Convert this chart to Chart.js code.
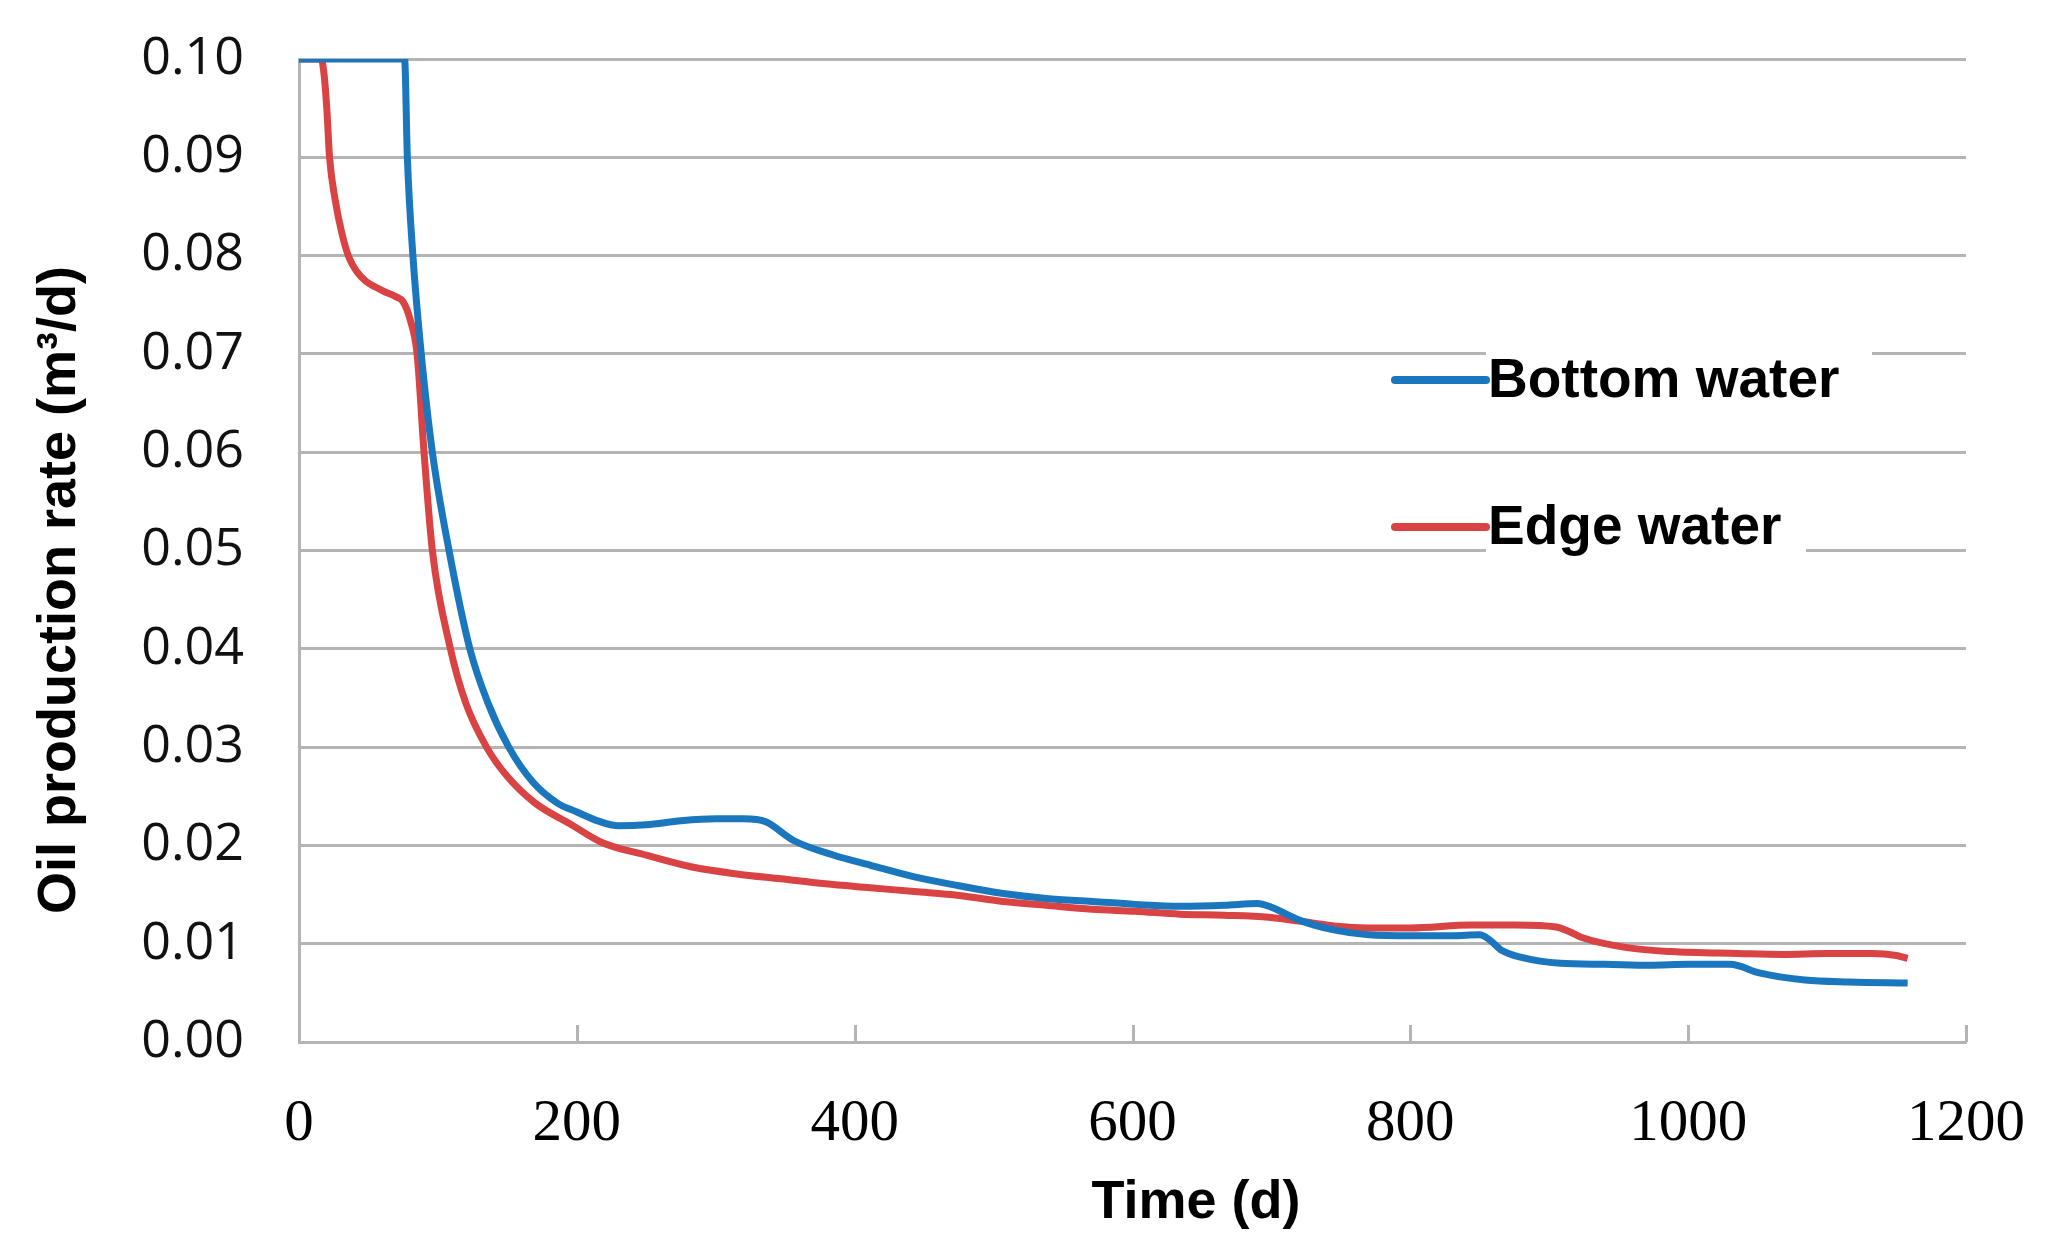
<!DOCTYPE html>
<html>
<head>
<meta charset="utf-8">
<title>Oil production rate</title>
<script src="https://cdn.jsdelivr.net/npm/chart.js@4.4.0/dist/chart.umd.min.js"></script>
<style>
html, body { margin: 0; padding: 0; background: #fff; }
canvas { display: block; }
</style>
</head>
<body>
<canvas id="ratechart" width="2056" height="1257"></canvas>
<script>
// values
var bottomDays = [0, 76, 78, 82, 88, 96, 108, 123, 136, 151, 168, 186, 200, 215, 230, 250, 275, 300, 320, 336, 356, 385, 411, 443, 475, 507, 538, 571, 602, 634, 666, 690, 700, 720, 745, 770, 800, 830, 850, 857, 866, 880, 908, 940, 972, 1000, 1030, 1052, 1084, 1116, 1158];
var bottomRate = [0.1, 0.1, 0.09, 0.08, 0.07, 0.06, 0.05, 0.04, 0.0345, 0.03, 0.0265, 0.0243, 0.0234, 0.0225, 0.0220, 0.0221, 0.0225, 0.0227, 0.0227, 0.0224, 0.0205, 0.0190, 0.0180, 0.0168, 0.0159, 0.0151, 0.0146, 0.0143, 0.0140, 0.0138, 0.0139, 0.0141, 0.0137, 0.0124, 0.0114, 0.0109, 0.0108, 0.0108, 0.0109, 0.0104, 0.0093, 0.0086, 0.0080, 0.0079, 0.0078, 0.0079, 0.0079, 0.0070, 0.0063, 0.0061, 0.0060];

var edgeDays = [0, 16, 18, 20, 22, 26, 31, 36, 42, 48, 55, 62, 70, 75, 80, 85, 90, 96, 109, 120, 135, 150, 170, 195, 218, 250, 283, 315, 347, 379, 411, 443, 475, 507, 538, 571, 602, 634, 666, 698, 720, 745, 770, 800, 844, 876, 905, 915, 924, 956, 988, 1036, 1068, 1100, 1132, 1150, 1158];
var edgeRate = [0.1, 0.1, 0.0985, 0.095, 0.09, 0.0857, 0.0822, 0.0798, 0.0783, 0.0774, 0.0768, 0.0763, 0.0758, 0.0753, 0.0735, 0.07, 0.06, 0.05, 0.04, 0.0345, 0.03, 0.027, 0.0243, 0.0222, 0.0203, 0.0190, 0.0178, 0.0171, 0.0166, 0.0161, 0.0157, 0.0153, 0.0149, 0.0143, 0.0139, 0.0135, 0.0133, 0.0130, 0.0129, 0.0127, 0.0123, 0.0118, 0.0116, 0.0116, 0.0119, 0.0119, 0.0117, 0.0112, 0.0106, 0.0096, 0.0092, 0.0090, 0.0089, 0.0090, 0.0090, 0.0088, 0.0085];

var xTicks = [0, 200, 400, 600, 800, 1000, 1200];
var yTicks = [0, 0.01, 0.02, 0.03, 0.04, 0.05, 0.06, 0.07, 0.08, 0.09, 0.10];
var seriesNames = ['Bottom water', 'Edge water'];
var seriesColors = ['#1b77bd', '#d94343'];
var xTitle = 'Time (d)';
var yTitle = 'Oil production rate (m\u00b3/d)';

var gridColor = '#b4b4b4';

function toPoints(days, rate) {
    return days.map(function (d, i) { return { x: d, y: rate[i] }; });
}

// titles, inward x ticks and the boxed legend
var decorations = {
    id: 'decorations',
    afterDatasetsDraw: function (chart) {
        var ctx = chart.ctx;
        var area = chart.chartArea;
        var xs = chart.scales.x;
        ctx.save();

        // small ticks pointing up from the time axis
        ctx.strokeStyle = gridColor;
        ctx.lineWidth = 3;
        xTicks.forEach(function (t) {
            var px = Math.round(xs.getPixelForValue(t)) + 0.5;
            ctx.beginPath();
            ctx.moveTo(px, area.bottom);
            ctx.lineTo(px, area.bottom - 17);
            ctx.stroke();
        });

        // legend
        var legendY = [380, 527];
        var boxRight = [1872, 1806];
        ctx.font = 'bold 55px "Liberation Sans", Arial, sans-serif';
        ctx.textBaseline = 'middle';
        ctx.textAlign = 'left';
        seriesNames.forEach(function (name, i) {
            ctx.fillStyle = '#fff';
            ctx.fillRect(1486, legendY[i] - 40, boxRight[i] - 1486, 80);
            ctx.strokeStyle = seriesColors[i];
            ctx.lineWidth = 8;
            ctx.lineCap = 'round';
            ctx.beginPath();
            ctx.moveTo(1395, legendY[i]);
            ctx.lineTo(1486, legendY[i]);
            ctx.stroke();
            ctx.fillStyle = '#000';
            ctx.fillText(name, 1488, legendY[i] + 2);
        });

        // axis titles
        ctx.fillStyle = '#000';
        ctx.textAlign = 'center';
        ctx.textBaseline = 'middle';
        ctx.font = 'bold 54px "Liberation Sans", Arial, sans-serif';
        ctx.fillText(xTitle, 1196, 1203);
        ctx.translate(60, 590);
        ctx.rotate(-Math.PI / 2);
        ctx.fillText(yTitle, 0, 0);
        ctx.restore();
    }
};

var chart1 = document.getElementById('ratechart');
var myChart1 = new Chart(chart1, {
    type: 'line',
    data: {
        datasets: [{
            label: seriesNames[0],
            data: toPoints(bottomDays, bottomRate),
            borderColor: seriesColors[0],
            borderWidth: 7,
            pointRadius: 0,
            cubicInterpolationMode: 'monotone',
            fill: false
        }, {
            label: seriesNames[1],
            data: toPoints(edgeDays, edgeRate),
            borderColor: seriesColors[1],
            borderWidth: 7,
            pointRadius: 0,
            cubicInterpolationMode: 'monotone',
            fill: false
        }]
    },
    options: {
        responsive: false,
        devicePixelRatio: 1,
        animation: false,
        layout: {
            padding: { top: 59, right: 90, left: 0, bottom: 0 }
        },
        plugins: {
            legend: { display: false },
            tooltip: { enabled: false }
        },
        scales: {
            x: {
                type: 'linear',
                min: 0,
                max: 1200,
                afterBuildTicks: function (s) { s.ticks = xTicks.map(function (v) { return { value: v }; }); },
                afterFit: function (s) { s.height = 215; },
                // invisible tick marks keep the labels away from the axis
                grid: { drawOnChartArea: false, drawTicks: true, tickLength: 47, tickColor: 'rgba(0,0,0,0)' },
                border: { display: true, color: gridColor, width: 3 },
                ticks: {
                    padding: 0,
                    color: '#000',
                    maxRotation: 0,
                    font: { family: '"Liberation Serif", "Times New Roman", serif', size: 59 },
                    callback: function (v) { return String(v); }
                }
            },
            y: {
                min: 0,
                max: 0.1,
                afterBuildTicks: function (s) { s.ticks = yTicks.map(function (v) { return { value: v }; }); },
                afterFit: function (s) { s.width = 299; },
                grid: { color: gridColor, lineWidth: 3, drawTicks: true, tickLength: 55, tickColor: 'rgba(0,0,0,0)' },
                border: { display: true, color: gridColor, width: 3 },
                ticks: {
                    padding: 0,
                    color: '#111',
                    font: { family: '"Open Sans", sans-serif', size: 52 },
                    callback: function (v) { return v.toFixed(2); }
                }
            }
        }
    },
    plugins: [decorations]
});
</script>
</body>
</html>
